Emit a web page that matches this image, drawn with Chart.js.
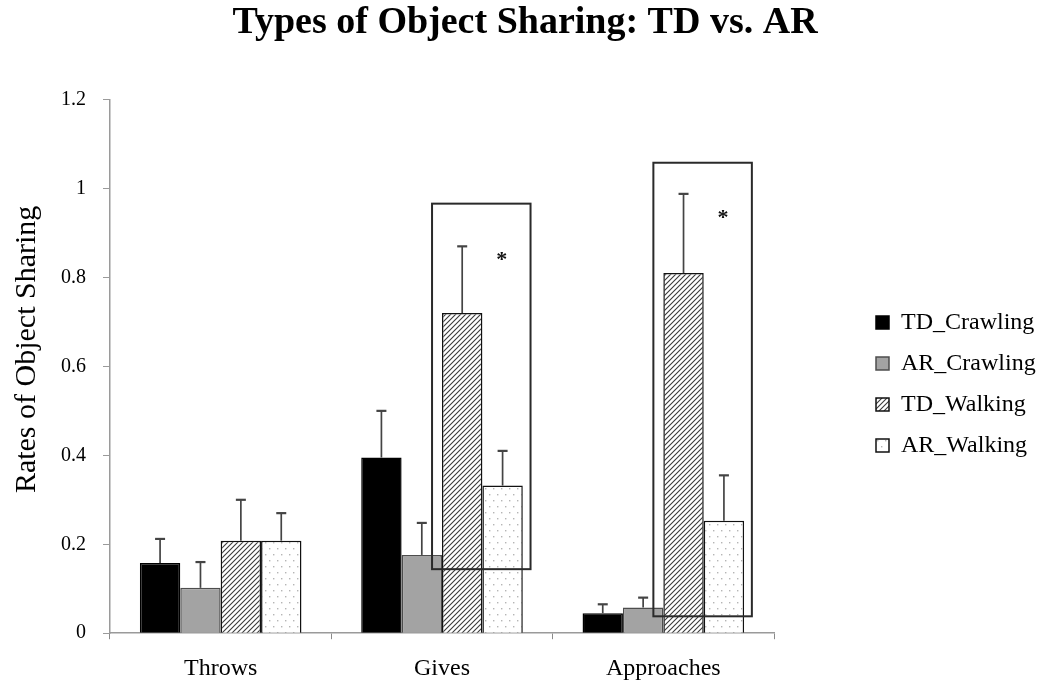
<!DOCTYPE html>
<html>
<head>
<meta charset="utf-8">
<script src="https://cdn.jsdelivr.net/npm/chart.js@4"></script>
<style>
  html, body { margin: 0; padding: 0; background: #fff; }
  #wrap { width: 1050px; height: 695px; }
</style>
</head>
<body>
<div id="wrap"><canvas id="c" width="1050" height="695"></canvas></div>
<script>
// ---- data ----
const categories = ['Throws', 'Gives', 'Approaches'];
const seriesNames = ['TD_Crawling', 'AR_Crawling', 'TD_Walking', 'AR_Walking'];
const tdCrawling = [0.158, 0.395, 0.045];
const arCrawling = [0.102, 0.176, 0.058];
const tdWalking  = [0.208, 0.720, 0.810];
const arWalking  = [0.208, 0.332, 0.253];
const tdCrawlingErr = [0.054, 0.105, 0.020];
const arCrawlingErr = [0.058, 0.072, 0.022];
const tdWalkingErr  = [0.092, 0.150, 0.178];
const arWalkingErr  = [0.062, 0.078, 0.102];
const yMin = 0, yMax = 1.2, yStep = 0.2;
const yTitle = 'Rates of Object Sharing';
const highlightCategories = ['Gives', 'Approaches'];
const highlightLow  = [0.144, 0.038];
const highlightHigh = [0.966, 1.058];
const starValues    = [0.850, 0.946];

// ---- patterns ----
function hatchPattern() {
  const t = document.createElement('canvas');
  t.width = 5; t.height = 5;
  const g = t.getContext('2d');
  g.fillStyle = '#ffffff'; g.fillRect(0, 0, 5, 5);
  g.strokeStyle = '#3a3a3a'; g.lineWidth = 1.1;
  g.beginPath();
  g.moveTo(-1, 6); g.lineTo(6, -1);
  g.moveTo(-1, 1); g.lineTo(1, -1);
  g.moveTo(4, 6); g.lineTo(6, 4);
  g.stroke();
  return g.createPattern(t, 'repeat');
}
function dotPattern() {
  const t = document.createElement('canvas');
  t.width = 8; t.height = 12;
  const g = t.getContext('2d');
  g.fillStyle = '#ffffff'; g.fillRect(0, 0, 8, 12);
  g.fillStyle = '#b5b5b5';
  g.fillRect(1, 2, 1.4, 1.4);
  g.fillRect(5, 8, 1.4, 1.4);
  return g.createPattern(t, 'repeat');
}
const ctx = document.getElementById('c').getContext('2d');
const serif = "'Liberation Serif', 'Times New Roman', serif";

const errArrays = [tdCrawlingErr, arCrawlingErr, tdWalkingErr, arWalkingErr];

const errorBars = {
  id: 'errorBars',
  afterDatasetsDraw(chart) {
    const c = chart.ctx, ys = chart.scales.y;
    c.save();
    c.strokeStyle = '#444';
    c.lineWidth = 1.7;
    chart.data.datasets.forEach((ds, i) => {
      const meta = chart.getDatasetMeta(i);
      meta.data.forEach((bar, j) => {
        const v = ds.data[j], e = errArrays[i][j];
        const y0 = ys.getPixelForValue(v), y1 = ys.getPixelForValue(v + e);
        c.beginPath();
        c.moveTo(bar.x, y0); c.lineTo(bar.x, y1);
        c.stroke();
        c.lineWidth = 2.2;
        c.beginPath();
        c.moveTo(bar.x - 5, y1); c.lineTo(bar.x + 5, y1);
        c.stroke();
        c.lineWidth = 1.7;
      });
    });
    c.restore();
  }
};

const highlightBoxes = {
  id: 'highlightBoxes',
  afterDraw(chart) {
    const c = chart.ctx, xs = chart.scales.x, ys = chart.scales.y;
    const cw = xs.width / categories.length;
    c.save();
    highlightCategories.forEach((cat, k) => {
      const cx = xs.getPixelForValue(categories.indexOf(cat));
      const x0 = cx - 0.045 * cw, x1 = cx + 0.400 * cw;
      const y0 = ys.getPixelForValue(highlightHigh[k]);
      const y1 = ys.getPixelForValue(highlightLow[k]);
      c.strokeStyle = '#2a2a2a';
      c.lineWidth = 2;
      c.strokeRect(x0, y0, x1 - x0, y1 - y0);
      c.fillStyle = '#111';
      c.font = 'bold 22px ' + serif;
      c.textAlign = 'center';
      c.textBaseline = 'alphabetic';
      c.fillText('*', cx + 0.27 * cw, ys.getPixelForValue(starValues[k]) + 11);
    });
    c.restore();
  }
};

// y-axis title drawn beside the axis (slightly above centre, as in the original)
const yAxisTitle = {
  id: 'yAxisTitle',
  afterDraw(chart) {
    const c = chart.ctx, ys = chart.scales.y;
    c.save();
    c.translate(27, (ys.top + ys.bottom) / 2 - 17);
    c.rotate(-Math.PI / 2);
    c.fillStyle = '#000';
    c.font = '30px ' + serif;
    c.textAlign = 'center';
    c.textBaseline = 'middle';
    c.fillText(yTitle, 0, 0);
    c.restore();
  }
};

// give the legend a little extra room on its right side
const legendRoom = {
  id: 'legendRoom',
  beforeLayout(chart) {
    const lg = chart.legend;
    if (lg && !lg._roomWrapped) {
      const orig = lg.fit.bind(lg);
      lg.fit = function () { orig(); this.width += 16; };
      lg._roomWrapped = true;
    }
  }
};

new Chart(ctx, {
  type: 'bar',
  data: {
    labels: categories,
    datasets: [
      { label: seriesNames[0], data: tdCrawling, backgroundColor: '#000000', borderColor: '#000000', borderWidth: 1.5 },
      { label: seriesNames[1], data: arCrawling, backgroundColor: '#a3a3a3', borderColor: '#4d4d4d', borderWidth: 1.5 },
      { label: seriesNames[2], data: tdWalking,  backgroundColor: hatchPattern(), borderColor: '#111111', borderWidth: 1.5 },
      { label: seriesNames[3], data: arWalking,  backgroundColor: dotPattern(), borderColor: '#111111', borderWidth: 1.5 }
    ]
  },
  options: {
    responsive: false,
    animation: false,
    devicePixelRatio: 1,
    layout: { padding: { left: 0, right: 0, top: 0, bottom: -3 } },
    datasets: { bar: { categoryPercentage: 0.73, barPercentage: 1.0 } },
    plugins: {
      title: {
        display: true,
        text: 'Types of Object Sharing: TD vs. AR',
        color: '#000',
        font: { family: serif, size: 38, weight: 'bold' },
        padding: { top: 0, bottom: 54 }
      },
      legend: {
        position: 'right',
        align: 'center',
        title: {
          display: true,
          text: ' ',
          font: { family: serif, size: 10 },
          padding: { top: 29, bottom: 29 }
        },
        labels: {
          color: '#000',
          font: { family: serif, size: 24 },
          boxWidth: 13,
          boxHeight: 13,
          padding: 17
        }
      },
      tooltip: { enabled: false }
    },
    scales: {
      x: {
        offset: true,
        grid: { display: true, drawOnChartArea: false, drawTicks: true, tickLength: 6, color: '#8a8a8a', offset: true },
        border: { display: true, color: '#9a9a9a', width: 1.5 },
        ticks: { color: '#000', font: { family: serif, size: 24 }, padding: 15 }
      },
      y: {
        min: yMin, max: yMax,
        afterFit(s) { s.width = 110; },
        grid: { display: true, drawOnChartArea: false, drawTicks: true, tickLength: 7, color: '#9a9a9a' },
        border: { display: true, color: '#9a9a9a', width: 1.5 },
        ticks: {
          stepSize: yStep, color: '#000', font: { family: serif, size: 20 }, padding: 17,
          callback: (v) => String(Number(v.toFixed(1)))
        },
        title: { display: false }
      },
      gap: {
        position: 'right',
        display: true,
        afterFit(s) { s.width = 85; },
        grid: { display: false },
        border: { display: false },
        ticks: { display: false }
      }
    }
  },
  plugins: [legendRoom, errorBars, highlightBoxes, yAxisTitle]
});
</script>
</body>
</html>
